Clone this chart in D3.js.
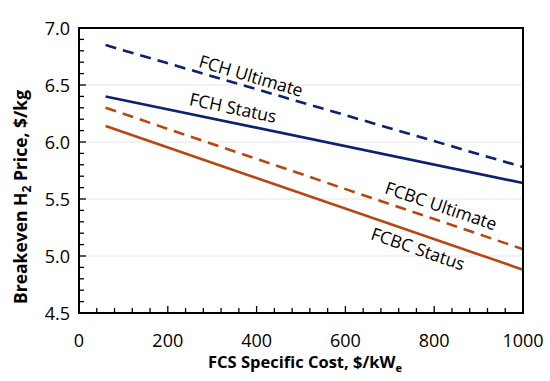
<!DOCTYPE html>
<html>
<head>
<meta charset="utf-8">
<script src="https://cdn.jsdelivr.net/npm/d3@7"></script>
<style>
  body { margin: 0; background: #fff; }
  text { font-family: "Open Sans", sans-serif; fill: #000; }
</style>
</head>
<body>
<svg id="chart" width="550" height="381"></svg>
<script>
// data (x = FCS specific cost, y = breakeven price)
const costs = [60, 1000];
const fchUltimate = [6.85, 5.78];
const fchStatus = [6.40, 5.64];
const fcbcUltimate = [6.30, 5.06];
const fcbcStatus = [6.14, 4.88];
const xTicks = [0, 200, 400, 600, 800, 1000];
const yTicks = [4.5, 5.0, 5.5, 6.0, 6.5, 7.0];

const navy = "#0b2270";
const rust = "#b8470f";

const series = [
  { name: "FCH Ultimate", values: fchUltimate, color: navy, dash: "11,7", lx: 251, ly: 76 },
  { name: "FCH Status", values: fchStatus, color: navy, dash: null, lx: 233, ly: 108 },
  { name: "FCBC Ultimate", values: fcbcUltimate, color: rust, dash: "11,7", lx: 441, ly: 206 },
  { name: "FCBC Status", values: fcbcStatus, color: rust, dash: null, lx: 418, ly: 249 }
];

const margin = { top: 28, right: 27, bottom: 68, left: 79 };
const svg = d3.select("#chart");
const W = 550, H = 381;
const w = W - margin.left - margin.right;
const h = H - margin.top - margin.bottom;

const x = d3.scaleLinear().domain([0, 1000]).range([0, w]);
const y = d3.scaleLinear().domain([4.5, 7.0]).range([h, 0]);

const g = svg.append("g").attr("transform", `translate(${margin.left},${margin.top})`);

// light gridlines
g.selectAll(".grid").data(yTicks.slice(1, -1)).enter().append("line")
  .attr("x1", 0).attr("x2", w)
  .attr("y1", d => y(d)).attr("y2", d => y(d))
  .attr("stroke", "#e6e6e6").attr("stroke-width", 1);

// minor ticks, pointing inward
const xMinor = d3.range(0, 1001, 40);
const yMinor = d3.range(45, 71).map(d => d / 10);

g.selectAll(".xm").data(xMinor).enter().append("line")
  .attr("x1", d => x(d)).attr("x2", d => x(d))
  .attr("y1", h).attr("y2", d => (d % 200 === 0 ? h - 7 : h - 5))
  .attr("stroke", "#000").attr("stroke-width", 1.3);

g.selectAll(".ym").data(yMinor).enter().append("line")
  .attr("y1", d => y(d)).attr("y2", d => y(d))
  .attr("x1", 0).attr("x2", d => (Math.round(d * 10) % 5 === 0 ? 7 : 5))
  .attr("stroke", "#000").attr("stroke-width", 1.3);

// series lines
const line = d3.line().x((d, i) => x(costs[i])).y(d => y(d));

series.forEach(s => {
  g.append("path")
    .datum(s.values)
    .attr("d", line)
    .attr("fill", "none")
    .attr("stroke", s.color)
    .attr("stroke-width", 2.6)
    .attr("stroke-dasharray", s.dash);
});

// plot frame
g.append("rect").attr("x", 0).attr("y", 0).attr("width", w).attr("height", h)
  .attr("fill", "none").attr("stroke", "#000").attr("stroke-width", 2);

// tick labels
g.selectAll(".xl").data(xTicks).enter().append("text")
  .attr("x", d => x(d)).attr("y", h + 34)
  .attr("text-anchor", "middle").style("font-size", "18px")
  .text(d => d);

g.selectAll(".yl").data(yTicks).enter().append("text")
  .attr("x", -9).attr("y", d => y(d) + 6.5)
  .attr("text-anchor", "end").style("font-size", "18px")
  .text(d => d.toFixed(1));

// rotated labels along the lines
series.forEach(s => {
  const dx = x(costs[1]) - x(costs[0]);
  const dy = y(s.values[1]) - y(s.values[0]);
  const ang = Math.atan2(dy, dx) * 180 / Math.PI;
  svg.append("text")
    .attr("transform", `translate(${s.lx},${s.ly}) rotate(${ang})`)
    .attr("text-anchor", "middle").attr("dy", "0.35em")
    .style("font-size", "17.5px")
    .text(s.name);
});

// axis titles
const xt = svg.append("text")
  .attr("x", margin.left + w / 2 + 4).attr("y", 368)
  .attr("text-anchor", "middle")
  .style("font-size", "16.5px").style("font-weight", "bold")
  .text("FCS Specific Cost, $/kW");
xt.append("tspan").attr("dy", 4).style("font-size", "11px").text("e");

const yt = svg.append("text")
  .attr("transform", `translate(27,197) rotate(-90)`)
  .attr("text-anchor", "middle")
  .style("font-size", "17.5px").style("font-weight", "bold");
yt.append("tspan").text("Breakeven H");
yt.append("tspan").attr("dy", 4).style("font-size", "12px").text("2");
yt.append("tspan").attr("dy", -4).text(" Price, $/kg");
</script>
</body>
</html>
